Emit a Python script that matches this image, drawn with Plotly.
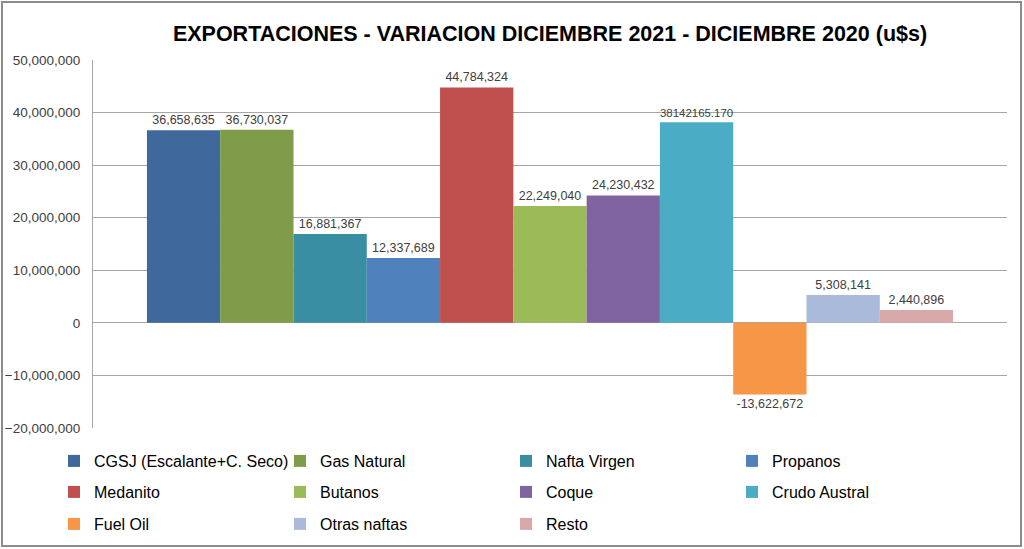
import plotly.graph_objects as go

series = ["CGSJ (Escalante+C. Seco)", "Gas Natural", "Nafta Virgen", "Propanos",
          "Medanito", "Butanos", "Coque", "Crudo Austral",
          "Fuel Oil", "Otras naftas", "Resto"]
values = [36658635, 36730037, 16881367, 12337689,
          44784324, 22249040, 24230432, 38142165.170,
          -13622672, 5308141, 2440896]
labels = ["36,658,635", "36,730,037", "16,881,367", "12,337,689",
          "44,784,324", "22,249,040", "24,230,432", "38142165.170",
          "-13,622,672", "5,308,141", "2,440,896"]
colors = ["#3F689C", "#7E9C49", "#3A8EA4", "#4F81BD",
          "#C0504D", "#9BBB59", "#8064A2", "#4BACC6",
          "#F79646", "#A9BADA", "#D9A9A9"]
category = [""]
y_ticks = [-20000000, -10000000, 0, 10000000, 20000000, 30000000, 40000000, 50000000]

W, H = 1024, 549
ml, mr, mt, mb = 93, 17, 60, 121
legend_rows = ["legend", "legend2", "legend3"]
row_y = [461, 492, 524]

fig = go.Figure()
for i, (name, v, lab, c) in enumerate(zip(series, values, labels, colors)):
    fig.add_trace(go.Bar(
        x=category, y=[v], name=name, marker=dict(color=c, line=dict(width=0)),
        text=[lab], textposition="outside", cliponaxis=False,
        textfont=dict(family="Liberation Sans", size=12.5, color="#404040"),
        hoverinfo="skip", legend=legend_rows[i // 4],
    ))

pw = W - ml - mr
ph = H - mt - mb
legend_common = dict(orientation="h", xref="container", yref="container",
                     x=54 / W, xanchor="left", yanchor="middle",
                     entrywidth=181, entrywidthmode="pixels",
                     traceorder="normal", bgcolor="rgba(0,0,0,0)",
                     font=dict(family="Liberation Sans", size=16, color="black"),
                     itemwidth=30, tracegroupgap=0)
fig.update_layout(
    width=W, height=H,
    margin=dict(l=ml, r=mr, t=mt, b=mb, autoexpand=False),
    paper_bgcolor="white", plot_bgcolor="white",
    barmode="group", bargap=0.118, bargroupgap=0,
    title=dict(text="<b>EXPORTACIONES - VARIACION DICIEMBRE 2021 - DICIEMBRE 2020 (u$s)</b>",
               x=550 / W, xanchor="center", xref="container",
               y=1 - 33 / H, yanchor="middle", yref="container",
               font=dict(family="Liberation Sans", size=21.5, color="black")),
    xaxis=dict(showticklabels=False, showgrid=False, zeroline=False,
               showline=False, ticks="", automargin=False),
    yaxis=dict(range=[-20000000, 50000000], tickvals=y_ticks, tickformat=",d",
               automargin=False,
               showgrid=True, gridcolor="#A6A6A6", gridwidth=1,
               zeroline=True, zerolinecolor="#A6A6A6", zerolinewidth=1,
               showline=True, linecolor="#A6A6A6", linewidth=1,
               ticks="", ticklabelstandoff=9,
               tickfont=dict(family="Liberation Sans", size=13.5, color="#404040")),
    legend=dict(legend_common, y=1 - row_y[0] / H),
    legend2=dict(legend_common, y=1 - row_y[1] / H),
    legend3=dict(legend_common, y=1 - row_y[2] / H),
    showlegend=True,
    shapes=[dict(type="rect", xref="paper", yref="paper",
                 x0=(2 - ml) / pw, x1=(1021 - ml) / pw,
                 y0=(H - mb - 546) / ph, y1=(H - mb - 2) / ph,
                 line=dict(color="#8C8C8C", width=2), fillcolor="rgba(0,0,0,0)",
                 layer="below")],
)
fig.write_html("out.html", config={"displayModeBar": False},
               post_script="document.body.style.margin='0';document.body.style.overflow='hidden';")
